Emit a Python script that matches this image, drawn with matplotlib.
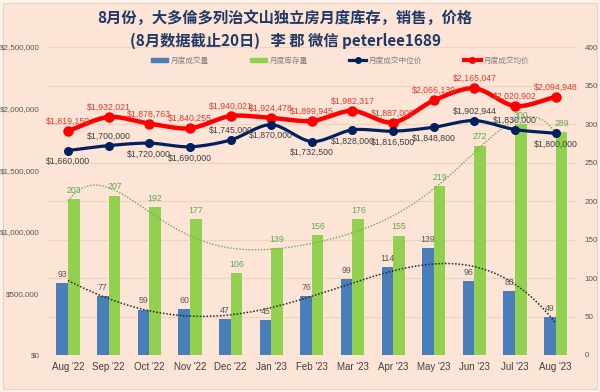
import numpy as np
import matplotlib
matplotlib.use("Agg")
import matplotlib.pyplot as plt
from matplotlib.patches import Rectangle, Patch
from matplotlib.lines import Line2D

plt.rcParams['font.family'] = ['Liberation Sans', 'Noto Sans CJK SC', 'DejaVu Sans']

months = ["Aug '22", "Sep '22", "Oct '22", "Nov '22", "Dec '22", "Jan '23", "Feb '23",
          "Mar '23", "Apr '23", "May '23", "Jun '23", "Jul '23", "Aug '23"]
sales = [93, 77, 59, 60, 47, 45, 76, 99, 114, 139, 96, 83, 49]
inventory = [203, 207, 192, 177, 106, 139, 156, 176, 155, 219, 272, 300, 289]
median_price = [1660000, 1700000, 1720000, 1690000, 1745000, 1870000, 1732500,
                1828000, 1816500, 1848800, 1902944, 1830000, 1800000]
avg_price = [1819150, 1932021, 1878763, 1840255, 1940021, 1924478, 1899945,
             1982317, 1887002, 2066139, 2165047, 2020902, 2094948]
median_label_side = ['below', 'above', 'below', 'below', 'above', 'below', 'below',
                     'below', 'below', 'below', 'above', 'above', 'below']

BG = '#FCE4D6'
NAVY = '#002060'
RED = '#FF0000'
BLUE = '#4A7EBB'
GREEN = '#92D050'
GREEN_TXT = '#5DAA4E'
GRAY = '#595959'


def smooth(xs, ys, n=24):
    xs = np.asarray(xs, float); ys = np.asarray(ys, float)
    px = np.concatenate([[2 * xs[0] - xs[1]], xs, [2 * xs[-1] - xs[-2]]])
    py = np.concatenate([[2 * ys[0] - ys[1]], ys, [2 * ys[-1] - ys[-2]]])
    ox, oy = [], []
    for i in range(1, len(px) - 2):
        t = np.linspace(0, 1, n, endpoint=False)
        for arr, out in ((px, ox), (py, oy)):
            p0, p1, p2, p3 = arr[i - 1], arr[i], arr[i + 1], arr[i + 2]
            m1 = (p2 - p0) / 2 * 0.9
            m2 = (p3 - p1) / 2 * 0.9
            h00 = 2 * t**3 - 3 * t**2 + 1
            h10 = t**3 - 2 * t**2 + t
            h01 = -2 * t**3 + 3 * t**2
            h11 = t**3 - t**2
            out.extend(h00 * p1 + h10 * m1 + h01 * p2 + h11 * m2)
    ox.append(xs[-1]); oy.append(ys[-1])
    return np.array(ox), np.array(oy)


fig = plt.figure(figsize=(6, 3.92), dpi=100, facecolor='#FDF1EA')
fig.patches.append(Rectangle((3 / 600, 3 / 392), 594 / 600, 386 / 392, transform=fig.transFigure,
                             facecolor=BG, edgecolor='#E6D2C6', lw=0.8, zorder=-10))

ax2 = fig.add_axes([0.0795, 0.0944, 0.8805, 0.7856])
ax = ax2.twinx()
ax.set_zorder(ax2.get_zorder() + 1)
ax.patch.set_visible(False)
ax2.patch.set_visible(False)

x = np.arange(len(months))
w = 0.285
ax2.bar(x - w / 2, sales, w, color=BLUE, zorder=3)
ax2.bar(x + w / 2, inventory, w, color=GREEN, zorder=3)
for xi, v in zip(x, sales):
    ax2.annotate(str(v), (xi - w / 2, v), xytext=(0, 3), textcoords='offset points',
                 ha='center', va='bottom', fontsize=6.3, color=GRAY, zorder=6)
for xi, v in zip(x, inventory):
    ax2.annotate(str(v), (xi + w / 2, v), xytext=(0, 3), textcoords='offset points',
                 ha='center', va='bottom', fontsize=6.3, color=GREEN_TXT, zorder=6)

# polynomial trendlines
xt = np.linspace(0, 12, 300)
cs = np.polyfit(x, sales, 4)
ax2.plot(xt, np.polyval(cs, xt), ls=(0, (1, 1.2)), color='#262626', lw=1.1, zorder=4)
ci = np.polyfit(x, inventory, 6)
ax2.plot(xt, np.polyval(ci, xt), ls=(0, (1, 1.2)), color='#70AD47', lw=1.0, zorder=4)

ax2.set_ylim(0, 400)
ax2.set_yticks(np.arange(0, 401, 50))
ax2.yaxis.tick_right()
ax2.grid(axis='y', color='#EFD3C2', lw=0.8, zorder=0)
ax2.set_axisbelow(True)

sx, sy = smooth(x, avg_price)
ax.plot(sx, sy, color=RED, lw=3.2, zorder=5, solid_capstyle='round')
ax.plot(x, avg_price, 'o', color=RED, ms=6.5, zorder=5)
mx, my = smooth(x, median_price)
ax.plot(mx, my, color=NAVY, lw=2.3, zorder=5, solid_capstyle='round')
ax.plot(x, median_price, 'o', color=NAVY, ms=5.5, zorder=5)

for xi, v in zip(x, avg_price):
    ax.annotate(f"${v:,}", (xi, v), xytext=(0, 7), textcoords='offset points',
                ha='center', va='center', fontsize=6.3, color='#E03C31', zorder=7)
for xi, v, s in zip(x, median_price, median_label_side):
    dy = 7 if s == 'above' else -8
    ax.annotate(f"${v:,}", (xi, v), xytext=(0, dy), textcoords='offset points',
                ha='center', va='center', fontsize=6.3, color='#404040', zorder=7)

ax.set_ylim(0, 2500000)
ax.set_yticks(np.arange(0, 2500001, 500000))
ax.yaxis.tick_left()
ax.set_yticklabels([f"${v:,}" for v in np.arange(0, 2500001, 500000)])

ax2.set_xlim(-0.5, 12.5)
ax2.set_xticks(x)
ax2.set_xticklabels(months)

for a in (ax, ax2):
    for sp in a.spines.values():
        sp.set_visible(False)
ax.tick_params(axis='y', length=0, labelsize=5.8, labelcolor=GRAY, pad=6)
ax2.tick_params(axis='y', length=0, labelsize=5.8, labelcolor=GRAY, pad=6)
ax2.tick_params(axis='x', length=0, labelsize=7, labelcolor='#404040', pad=5)

handles = [Patch(color=BLUE), Patch(color=GREEN),
           Line2D([], [], color=NAVY, lw=2.3, marker='o', ms=4),
           Line2D([], [], color=RED, lw=3, marker='o', ms=4)]
labels = ['月度成交量', '月度库存量', '月度成交中位价', '月度成交均价']
fig.legend(handles, labels, loc='center', bbox_to_anchor=(0.567, 0.845), ncol=4,
           frameon=False, fontsize=5.5, columnspacing=5.4, handlelength=2.2,
           handleheight=0.5, handletextpad=0.4, labelcolor='#7F7F7F')

fig.text(0.475, 1 - 18 / 392, '8月份，大多倫多列治文山独立房月度库存，销售，价格',
         ha='center', va='center', fontsize=11, fontweight='bold', color='#1F3864',
         family=['Noto Sans CJK SC', 'DejaVu Sans'])
fig.text(0.475, 1 - 41 / 392, '(8月数据截止20日)   李 郡 微信 peterlee1689',
         ha='center', va='center', fontsize=11, fontweight='bold', color='#1F3864',
         family=['Noto Sans CJK SC', 'DejaVu Sans'])

fig.savefig('out.png', dpi=100, facecolor=fig.get_facecolor())
